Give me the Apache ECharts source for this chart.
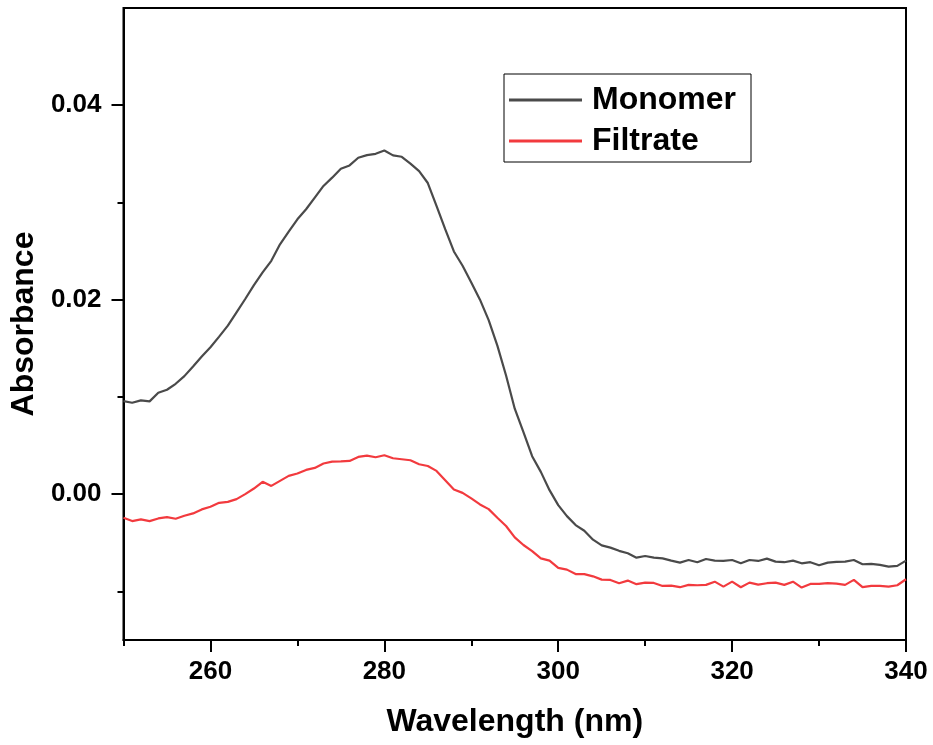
<!DOCTYPE html>
<html>
<head>
<meta charset="utf-8">
<script src="https://cdn.jsdelivr.net/npm/echarts@6/dist/echarts.min.js"></script>
<style>html,body{margin:0;padding:0;background:#fff}#c{width:933px;height:745px}</style>
</head>
<body>
<div id="c"></div>
<script>
const wavelengths = [250,251,252,253,254,255,256,257,258,259,260,261,262,263,264,265,266,267,268,269,270,271,272,273,274,275,276,277,278,279,280,281,282,283,284,285,286,287,288,289,290,291,292,293,294,295,296,297,298,299,300,301,302,303,304,305,306,307,308,309,310,311,312,313,314,315,316,317,318,319,320,321,322,323,324,325,326,327,328,329,330,331,332,333,334,335,336,337,338,339,340];
const monomer = [0.00957,0.0094,0.00964,0.00954,0.01043,0.01074,0.01135,0.01214,0.01313,0.01415,0.01511,0.0162,0.01733,0.0187,0.02007,0.0215,0.0228,0.024,0.0257,0.027,0.02827,0.0293,0.0305,0.0317,0.03255,0.03347,0.03381,0.0346,0.03487,0.035,0.03535,0.03484,0.0347,0.034,0.03323,0.032,0.02964,0.02725,0.02496,0.02349,0.02178,0.02,0.0179,0.01528,0.0122,0.00879,0.00639,0.0039,0.00229,0.00041,-0.00113,-0.00226,-0.00318,-0.00376,-0.00468,-0.00527,-0.0055,-0.00583,-0.00608,-0.00653,-0.00636,-0.00653,-0.0066,-0.00684,-0.00704,-0.00677,-0.007,-0.00667,-0.00684,-0.00687,-0.00677,-0.00711,-0.00677,-0.00687,-0.00663,-0.00694,-0.007,-0.00684,-0.00711,-0.007,-0.00731,-0.00704,-0.00697,-0.00694,-0.00677,-0.00721,-0.00718,-0.00728,-0.00746,-0.00738,-0.00684];
const filtrate = [-0.00243,-0.00277,-0.0026,-0.00277,-0.0025,-0.00236,-0.00253,-0.00222,-0.00198,-0.00157,-0.0013,-0.00089,-0.00079,-0.00051,0,0.00058,0.00127,0.00085,0.00137,0.00188,0.00212,0.00249,0.0027,0.00315,0.00335,0.00338,0.00342,0.00383,0.00397,0.0038,0.004,0.00369,0.00359,0.00349,0.00308,0.0029,0.00239,0.00144,0.00048,0.00013,-0.00044,-0.00106,-0.00154,-0.00243,-0.00328,-0.00444,-0.00523,-0.00585,-0.0066,-0.00684,-0.00759,-0.00776,-0.00822,-0.00822,-0.00845,-0.00879,-0.00882,-0.00916,-0.00889,-0.00926,-0.0091,-0.00913,-0.00944,-0.0094,-0.00957,-0.00933,-0.00937,-0.00933,-0.009,-0.00951,-0.009,-0.00957,-0.0091,-0.0093,-0.00916,-0.0091,-0.00933,-0.009,-0.00961,-0.00923,-0.00923,-0.00916,-0.0092,-0.00933,-0.00882,-0.00957,-0.00944,-0.00944,-0.00951,-0.00937,-0.00875];
const xMajorTicks = [260,280,300,320,340];
const xMinorTicks = [250,270,290,310,330];
const yMajorTicks = [0,0.02,0.04];
const yMinorTicks = [-0.01,0.01,0.03];
const seriesNames = ['Monomer','Filtrate'];

const FONT = '"Liberation Sans", Arial, sans-serif';
const chart = echarts.init(document.getElementById('c'), null, {renderer:'canvas'});
const pair = (xs, ys) => xs.map((x,i)=>[x, ys[i]]);
chart.setOption({
  animation:false,
  backgroundColor:'#fff',
  grid:{left:123,right:27,top:8,bottom:105,show:true,borderColor:'#000',borderWidth:2,backgroundColor:'transparent'},
  legend:{
    orient:'vertical', left:504, top:74,
    padding:[9,15,4,5], itemGap:7, itemWidth:73, itemHeight:3, icon:'rect',
    borderColor:'#000', borderWidth:1,
    textStyle:{fontFamily:FONT,fontWeight:'bold',fontSize:32,color:'#000',lineHeight:34,padding:[0,0,0,5]},
    data:seriesNames
  },
  xAxis:[{
    type:'value', min:250, max:340, position:'bottom',
    name:'Wavelength (nm)', nameLocation:'middle', nameGap:66,
    nameTextStyle:{fontFamily:FONT,fontWeight:'bold',fontSize:32,color:'#000'},
    axisLine:{show:true,onZero:false,lineStyle:{color:'#000',width:2}},
    axisTick:{show:true,inside:false,length:12,lineStyle:{color:'#000',width:2},customValues:xMajorTicks},
    axisLabel:{show:true,margin:19,fontFamily:FONT,fontWeight:'bold',fontSize:26,color:'#000',customValues:xMajorTicks},
    splitLine:{show:false}
  },{
    type:'value', min:250, max:340, position:'bottom',
    axisLine:{show:false,onZero:false},
    axisTick:{show:true,inside:false,length:6,lineStyle:{color:'#000',width:2},customValues:xMinorTicks},
    axisLabel:{show:false},
    splitLine:{show:false}
  }],
  yAxis:[{
    type:'value', min:-0.015, max:0.05, position:'left',
    name:'Absorbance', nameLocation:'middle', nameGap:72,
    nameTextStyle:{fontFamily:FONT,fontWeight:'bold',fontSize:32,color:'#000'},
    axisLine:{show:true,onZero:false,lineStyle:{color:'#000',width:2}},
    axisTick:{show:true,inside:false,length:12,lineStyle:{color:'#000',width:2},customValues:yMajorTicks},
    axisLabel:{show:true,margin:22,fontFamily:FONT,fontWeight:'bold',fontSize:26,color:'#000',customValues:yMajorTicks,formatter:v=>v.toFixed(2)},
    splitLine:{show:false}
  },{
    type:'value', min:-0.015, max:0.05, position:'left',
    axisLine:{show:false,onZero:false},
    axisTick:{show:true,inside:false,length:6,lineStyle:{color:'#000',width:2},customValues:yMinorTicks},
    axisLabel:{show:false},
    splitLine:{show:false}
  }],
  series:[{
    name:seriesNames[0], type:'line', xAxisIndex:0, yAxisIndex:0,
    data:pair(wavelengths, monomer), symbol:'none', smooth:false,
    lineStyle:{color:'#4a4a4a',width:2.2}, itemStyle:{color:'#4a4a4a'}
  },{
    name:seriesNames[1], type:'line', xAxisIndex:0, yAxisIndex:0,
    data:pair(wavelengths, filtrate), symbol:'none', smooth:false,
    lineStyle:{color:'#f23a3e',width:2.2}, itemStyle:{color:'#f23a3e'}
  }]
});
</script>
</body>
</html>
